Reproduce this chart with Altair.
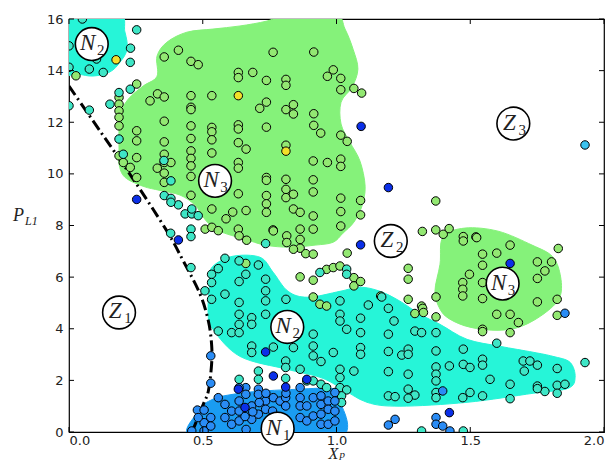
import altair as alt
import pandas as pd

# ---------------- data ----------------
green_pts = [
    (0.026, 13.80), (0.253, 13.48),
    (0.187, 12.96), (0.187, 12.70), (0.187, 12.44), (0.187, 12.19), (0.187, 11.86),
    (0.187, 10.70), (0.203, 10.44), (0.229, 10.25),
    (0.253, 11.67), (0.253, 11.28), (0.253, 10.63), (0.253, 9.86),
    (0.303, 12.83), (0.331, 13.10), (0.356, 12.98), (0.356, 14.53), (0.409, 14.79), (0.456, 14.36), (0.483, 14.23),
    (0.356, 12.04), (0.356, 11.24), (0.356, 10.76), (0.356, 10.44), (0.330, 10.22), (0.356, 10.03), (0.356, 9.67), (0.381, 10.44),
    (0.456, 13.03), (0.456, 12.58), (0.456, 12.49), (0.456, 11.86), (0.456, 11.37), (0.456, 10.89), (0.456, 10.60),
    (0.456, 10.31), (0.456, 9.90), (0.456, 9.17),
    (0.534, 13.03), (0.534, 11.80), (0.534, 11.63), (0.534, 11.32), (0.534, 10.81), (0.534, 8.64), (0.509, 7.86),
    (0.534, 7.93), (0.558, 7.80),
    (0.633, 13.93), (0.633, 13.73), (0.687, 13.93), (0.713, 12.54), (0.738, 12.78), (0.633, 11.90), (0.633, 11.74),
    (0.738, 11.81), (0.633, 11.21), (0.662, 10.96), (0.633, 10.44), (0.633, 10.22), (0.633, 9.23), (0.662, 8.58),
    (0.587, 8.26), (0.612, 8.52), (0.633, 7.86),
    (0.738, 13.62), (0.763, 14.71), (0.811, 13.66), (0.811, 13.43), (0.839, 12.68), (0.839, 12.32), (0.811, 12.49), (0.811, 11.11),
    (0.738, 9.86), (0.738, 9.75), (0.738, 9.16), (0.738, 8.84), (0.738, 8.51), (0.763, 7.83), (0.811, 9.79), (0.811, 9.40),
    (0.811, 9.08), (0.839, 9.21), (0.839, 8.64), (0.864, 8.51),
    (0.915, 14.72), (0.988, 14.03), (0.966, 13.78), (1.016, 13.70), (1.016, 13.26), (1.065, 13.31), (1.094, 13.13),
    (0.915, 12.33), (0.915, 11.88), (0.941, 11.58), (1.016, 11.50), (1.040, 11.26),
    (0.913, 10.50), (0.966, 10.44), (1.016, 10.57), (1.016, 10.29),
    (0.913, 9.77), (0.913, 9.30), (1.016, 9.06), (1.016, 8.54), (1.090, 8.97), (1.090, 8.41), (1.016, 7.98),
    (0.913, 8.37), (0.913, 7.86), (0.864, 7.86),
    (1.371, 8.95),
    (1.321, 7.77), (1.371, 7.83), (1.399, 7.66), (1.421, 7.88), (1.474, 7.57), (1.521, 7.56), (1.474, 7.40),
    (1.040, 6.93),
    (0.636, 7.60), (0.664, 7.43), (0.764, 7.79), (0.814, 7.60), (0.814, 7.34), (0.864, 7.46), (0.864, 7.12),
    (0.839, 7.08), (0.885, 6.91), (0.913, 6.89), (0.661, 6.53),
    (0.913, 5.23), (0.938, 4.95), (0.963, 4.88), (0.864, 6.01), (0.913, 5.88),
    (0.963, 6.30), (0.988, 6.37), (1.013, 6.43), (1.065, 5.98), (1.065, 5.66), (1.090, 5.83),
    (1.268, 6.34), (1.268, 5.92), (1.268, 5.14), (1.318, 4.88), (1.322, 4.79), (1.293, 4.59), (1.325, 4.63),
    (1.372, 5.23), (1.372, 4.46), (1.165, 5.27),
    (1.524, 7.53), (1.649, 7.24), (1.546, 6.89), (1.599, 6.93), (1.546, 6.46), (1.497, 6.11), (1.472, 5.79),
    (1.472, 5.53), (1.472, 5.27), (1.546, 5.79), (1.546, 5.17), (1.599, 4.56), (1.649, 4.56), (1.680, 4.24),
    (1.546, 3.98), (1.546, 3.89), (1.649, 3.85), (1.751, 6.59), (1.779, 6.24), (1.804, 6.59), (1.829, 7.11),
    (1.751, 5.95), (1.751, 5.04), (1.825, 5.14), (1.825, 4.52),
]

cyan_pts = [
    (0.05, 16.0), (0.253, 15.58), (0.23, 14.87), (0.229, 14.32), (0.103, 14.45), (0.076, 14.06), (0.128, 13.93),
    (0.0, 14.13), (0.0, 14.96), (0.229, 13.28), (0.187, 13.15), (0.153, 12.70), (0.0, 12.64), (0.076, 12.47),
    (0.187, 11.35), (0.203, 10.76),
    (0.381, 9.73), (0.356, 9.16), (0.381, 9.05), (0.409, 8.80), (0.381, 8.90), (0.434, 8.45), (0.459, 8.45),
    (0.483, 8.38), (0.459, 8.64), (0.380, 7.70), (0.456, 7.86), (0.456, 7.57), (0.456, 6.37), (0.355, 10.52),
    (0.533, 6.11), (0.533, 5.79), (0.558, 6.33), (0.508, 5.47), (0.533, 5.14), (0.558, 3.91),
    (0.735, 7.30), (0.583, 6.73), (0.636, 6.63), (0.708, 6.47), (0.661, 6.11), (0.636, 5.83), (0.735, 5.92),
    (0.735, 5.47), (0.735, 5.08), (0.583, 5.34), (0.636, 5.02), (0.683, 4.43), (0.636, 4.56), (0.636, 4.17),
    (0.608, 3.85), (0.636, 3.85), (0.683, 4.17), (0.735, 4.56), (0.683, 3.33), (0.683, 3.08), (0.764, 3.29),
    (0.839, 3.27), (0.810, 2.75), (0.810, 2.50), (0.864, 2.43), (0.913, 3.79), (0.913, 3.33), (0.913, 2.95),
    (0.942, 2.73), (0.988, 3.08), (1.013, 2.43), (1.013, 2.11), (0.811, 5.14),
    (0.938, 6.18), (1.038, 6.31), (1.038, 6.11),
    (0.708, 2.36), (0.708, 2.04), (0.636, 2.04), (0.810, 2.08), (0.889, 1.98), (0.913, 1.98), (0.942, 1.85),
    (0.963, 1.72), (1.013, 1.72), (1.038, 1.63),
    (1.013, 5.08), (1.013, 4.56), (1.013, 4.30), (1.119, 4.92), (1.038, 3.98), (1.090, 4.41), (1.090, 3.85),
    (1.194, 4.79), (1.215, 4.30), (1.194, 3.79), (1.293, 3.91), (1.318, 3.85), (1.372, 3.85), (1.090, 3.27),
    (1.090, 3.01), (1.194, 3.12), (1.244, 2.98), (1.268, 3.21), (1.268, 3.01), (1.372, 3.14), (1.065, 2.36),
    (1.194, 2.34), (1.268, 2.24), (1.372, 2.52), (1.372, 2.24), (1.372, 1.98), (1.422, 2.56), (1.474, 2.62),
    (1.268, 1.66), (1.293, 1.43), (1.268, 1.31), (1.194, 1.40), (1.219, 1.37), (1.372, 1.53), (1.372, 1.33),
    (1.169, 5.23), (1.019, 1.40), (1.019, 1.14),
    (1.474, 3.21), (1.499, 2.50), (1.546, 2.82), (1.546, 2.59), (1.574, 2.04), (1.546, 1.40), (1.499, 1.53),
    (1.472, 1.33), (1.649, 1.85), (1.649, 1.29), (1.698, 2.75), (1.723, 2.75), (1.751, 2.59), (1.702, 2.36),
    (1.751, 1.78), (1.779, 1.57), (1.751, 1.68), (1.825, 2.46), (1.825, 1.81), (1.854, 1.85), (1.825, 1.50),
    (1.929, 2.69), (1.599, 3.44),
    (1.318, 0.04), (1.474, 0.04),
]

azure_pts = [
    (0.558, 1.33), (0.583, 1.07), (0.608, 0.81), (0.636, 1.20), (0.636, 0.81), (0.683, 1.01), (0.735, 1.20),
    (0.735, 0.88), (0.764, 1.33), (0.789, 1.20), (0.810, 1.33), (0.810, 1.01), (0.864, 1.33), (0.864, 1.01),
    (0.889, 1.01), (0.913, 1.33), (0.942, 1.40), (0.942, 1.07), (0.969, 1.20), (0.583, 0.56), (0.608, 0.30),
    (0.636, 0.43), (0.683, 0.49), (0.708, 0.69), (0.864, 0.56), (0.889, 0.43), (0.913, 0.62), (0.942, 0.69),
    (0.969, 0.88), (0.994, 0.81), (0.942, 0.30), (0.969, 0.30), (0.994, 0.43), (0.661, 1.72), (0.661, 1.46),
    (0.708, 1.66), (0.708, 1.46), (0.864, 1.72), (0.994, 1.53), (0.994, 1.20), (0.636, 1.72),
    (0.480, 0.85), (0.505, 0.85), (0.459, 0.04), (0.505, 0.36), (0.505, 0.04), (0.530, 0.56), (0.530, 0.23),
    (0.483, 0.56),
    (0.658, 0.60), (0.687, 0.78), (0.711, 1.14), (0.736, 1.50), (0.761, 0.81), (0.761, 0.49), (0.662, 0.10),
    (0.811, 1.50),
    (0.530, 2.95), (0.530, 1.89),
    (1.397, 1.59), (1.194, 0.27), (1.219, 0.49), (1.372, 0.56), (1.372, 0.30), (1.397, 0.23), (1.424, 0.04),
    (1.854, 4.60),
]

dark_pts = [
    (0.253, 9.01), (1.092, 11.84), (1.194, 9.47), (1.090, 7.25), (0.409, 7.44), (0.735, 3.10), (0.764, 2.17),
    (0.810, 1.74), (0.889, 2.04), (0.633, 1.66), (0.658, 0.95), (1.422, 0.75), (1.649, 6.53),
]
yellow_pts = [(0.176, 14.42), (0.633, 13.03), (0.811, 10.88)]
sky_pts = [(1.929, 11.12)]

point_classes = ["g", "c", "a", "d", "y", "s"]
point_colors = ["#93e872", "#3ee6c6", "#2a8cf5", "#0b2fe8", "#f2e02a", "#3cc4f0"]

# class regions (outlines, data units)
region_green_upper = [
    (0.329, 14.56), (0.366, 15.10), (0.441, 15.49), (0.538, 15.61), (0.639, 15.73), (0.740, 15.92), (0.826, 16.2),
    (0.994, 16.2), (1.032, 15.61), (1.062, 14.83), (1.080, 14.06), (1.058, 13.36), (1.017, 12.78), (1.017, 11.93),
    (1.050, 11.23), (1.088, 10.49), (1.107, 9.52), (1.095, 8.75), (1.065, 8.13), (1.024, 7.70), (0.987, 7.35),
    (0.920, 7.24), (0.826, 7.16), (0.733, 7.24), (0.658, 7.47), (0.594, 7.66), (0.546, 7.86), (0.508, 8.24),
    (0.471, 8.79), (0.415, 9.18), (0.340, 9.36), (0.277, 9.52), (0.209, 9.87), (0.187, 10.38), (0.187, 10.96),
    (0.187, 11.73), (0.191, 12.31), (0.221, 12.89), (0.277, 13.40), (0.329, 13.78),
]
region_green_right = [
    (1.398, 7.55), (1.480, 7.90), (1.604, 7.78), (1.731, 7.24), (1.806, 6.81), (1.836, 6.11), (1.836, 5.26),
    (1.783, 4.64), (1.693, 4.10), (1.604, 3.94), (1.499, 4.06), (1.424, 4.37), (1.387, 4.76), (1.368, 5.45),
    (1.387, 6.50),
]
region_cyan_corner = [
    (-0.05, 16.3), (0.179, 16.3), (0.209, 15.5), (0.217, 14.83), (0.191, 14.33), (0.153, 13.95), (0.090, 13.79),
    (0.030, 13.87), (-0.05, 13.95),
]
region_cyan_main = [
    (0.527, 5.92), (0.538, 6.42), (0.613, 6.81), (0.714, 6.77), (0.763, 6.19), (0.819, 5.45), (0.893, 5.22),
    (1.013, 5.45), (1.088, 5.61), (1.163, 5.45), (1.237, 5.07), (1.312, 4.56), (1.387, 4.17), (1.488, 3.59),
    (1.611, 3.32), (1.735, 3.09), (1.809, 2.93), (1.873, 2.70), (1.892, 2.12), (1.865, 1.69), (1.735, 1.50),
    (1.488, 1.15), (1.237, 1.00), (1.114, 1.15), (1.013, 1.73), (0.938, 2.12), (0.815, 2.43), (0.639, 2.93),
    (0.538, 3.98), (0.520, 4.64),
]
region_blue = [
    (0.479, -0.3), (0.482, 0.80), (0.538, 1.27), (0.613, 1.46), (0.714, 1.58), (0.864, 1.66), (0.976, 1.69),
    (1.002, 1.46), (1.002, -0.3),
]
region_fill = ["#85f27a", "#85f27a", "#26f5d8", "#26f5d8", "#1a9cf2"]

# boundary (dash-dot)
boundary_x = [0.0, 0.12, 0.24, 0.365, 0.427, 0.49, 0.521, 0.533, 0.533, 0.521, 0.502, 0.46]
boundary_y = [13.4, 11.6, 9.8, 7.8, 6.63, 5.34, 4.3, 3.4, 2.62, 1.59, 1.07, 0.0]

# circled labels
label_letter = ["N", "N", "N", "N", "N", "Z", "Z", "Z"]
label_sub = ["2", "3", "2", "1", "3", "1", "2", "3"]
label_x = [0.085, 0.546, 0.816, 0.78, 1.621, 0.187, 1.203, 1.661]
label_y = [15.03, 9.73, 4.07, 0.13, 5.75, 4.63, 7.40, 11.95]

x_ticks = [0.0, 0.5, 1.0, 1.5, 2.0]
y_ticks = [0, 2, 4, 6, 8, 10, 12, 14, 16]

# ---------------- chart ----------------
W, H = 535, 413
xs = alt.Scale(domain=[0, 2], nice=False, zero=False)
ys = alt.Scale(domain=[0, 16], nice=False, zero=False)
xaxis = alt.Axis(values=x_ticks, format=".1f", title=None, grid=False, domain=False, ticks=False,
                 labelFontSize=13, labelFont="DejaVu Sans", labelColor="#222", labelPadding=2)
yaxis = alt.Axis(values=y_ticks, format="d", title=None, grid=False, domain=False, ticks=False,
                 labelFontSize=13, labelFont="DejaVu Sans", labelColor="#222", labelPadding=6)


def X(f):
    return alt.X(f, type="quantitative", scale=xs, axis=xaxis)


def Y(f):
    return alt.Y(f, type="quantitative", scale=ys, axis=yaxis)


layers = []
regions = [region_green_upper, region_green_right, region_cyan_corner, region_cyan_main, region_blue]
for poly, col in zip(regions, region_fill):
    df = pd.DataFrame({"x": [p[0] for p in poly], "y": [p[1] for p in poly], "i": list(range(len(poly)))})
    layers.append(
        alt.Chart(df).mark_line(fill=col, stroke=col, strokeWidth=1, interpolate="cardinal-closed", clip=True)
        .encode(x=X("x"), y=Y("y"), order=alt.Order("i:Q"))
    )

bdf = pd.DataFrame({"x": boundary_x, "y": boundary_y, "i": list(range(len(boundary_x)))})
layers.append(
    alt.Chart(bdf).mark_line(color="black", strokeWidth=3, strokeDash=[11, 4, 2, 4], interpolate="cardinal", clip=True)
    .encode(x=X("x"), y=Y("y"), order=alt.Order("i:Q"))
)

rows = []
for cls, pts in zip(point_classes, [green_pts, cyan_pts, azure_pts, dark_pts, yellow_pts, sky_pts]):
    for (px, py) in pts:
        rows.append({"x": px, "y": py, "cls": cls})
pdf = pd.DataFrame(rows)
layers.append(
    alt.Chart(pdf).mark_circle(size=72, stroke="black", strokeWidth=1, opacity=1, clip=True)
    .encode(x=X("x"), y=Y("y"),
            color=alt.Color("cls:N", scale=alt.Scale(domain=point_classes, range=point_colors), legend=None))
)

ldf = pd.DataFrame({"x": label_x, "y": label_y, "L": label_letter, "S": label_sub})
layers.append(
    alt.Chart(ldf).mark_circle(size=1075, color="white", stroke="black", strokeWidth=1.6, opacity=1)
    .encode(x=X("x"), y=Y("y"))
)
layers.append(
    alt.Chart(ldf).mark_text(font="Liberation Serif", fontStyle="italic", fontSize=23, dx=-4, dy=-1,
                             align="center", baseline="middle", color="#222")
    .encode(x=X("x"), y=Y("y"), text="L:N")
)
layers.append(
    alt.Chart(ldf).mark_text(font="Liberation Serif", fontSize=15, dx=9, dy=6,
                             align="center", baseline="middle", color="#222")
    .encode(x=X("x"), y=Y("y"), text="S:N")
)

# inward ticks on all four sides
xt = pd.DataFrame({"v": x_ticks})
yt = pd.DataFrame({"v": y_ticks})
layers.append(alt.Chart(xt).mark_rule(color="black", strokeWidth=1)
              .encode(x=X("v"), y=alt.value(H), y2=alt.value(H - 5)))
layers.append(alt.Chart(xt).mark_rule(color="black", strokeWidth=1)
              .encode(x=X("v"), y=alt.value(0), y2=alt.value(5)))
layers.append(alt.Chart(yt).mark_rule(color="black", strokeWidth=1)
              .encode(y=Y("v"), x=alt.value(0), x2=alt.value(5)))
layers.append(alt.Chart(yt).mark_rule(color="black", strokeWidth=1)
              .encode(y=Y("v"), x=alt.value(W), x2=alt.value(W - 5)))

# axis titles (X_p and P_L1)
one = pd.DataFrame({"a": ["X"], "b": ["p"], "c": ["P"], "d": ["L1"]})
layers.append(alt.Chart(one).mark_text(font="Liberation Serif", fontStyle="italic", fontSize=16,
                                       align="center", baseline="alphabetic", color="#222")
              .encode(x=alt.value(W / 2 - 3), y=alt.value(H + 27), text="a:N"))
layers.append(alt.Chart(one).mark_text(font="Liberation Serif", fontStyle="italic", fontSize=11,
                                       align="left", baseline="alphabetic", color="#222")
              .encode(x=alt.value(W / 2 + 3), y=alt.value(H + 26), text="b:N"))
layers.append(alt.Chart(one).mark_text(font="Liberation Serif", fontStyle="italic", fontSize=18,
                                       align="left", baseline="middle", color="#222")
              .encode(x=alt.value(-56), y=alt.value(197), text="c:N"))
layers.append(alt.Chart(one).mark_text(font="Liberation Serif", fontStyle="italic", fontSize=12,
                                       align="left", baseline="middle", color="#222")
              .encode(x=alt.value(-44), y=alt.value(202), text="d:N"))

chart = alt.layer(*layers).properties(
    width=W, height=H,
    autosize=alt.AutoSizeParams(type="none"),
    padding={"left": 61, "top": 11, "right": 3, "bottom": 30},
).configure_view(stroke="black", strokeWidth=1.2)

chart.save("out.html", embed_options={"renderer": "svg", "actions": False})
